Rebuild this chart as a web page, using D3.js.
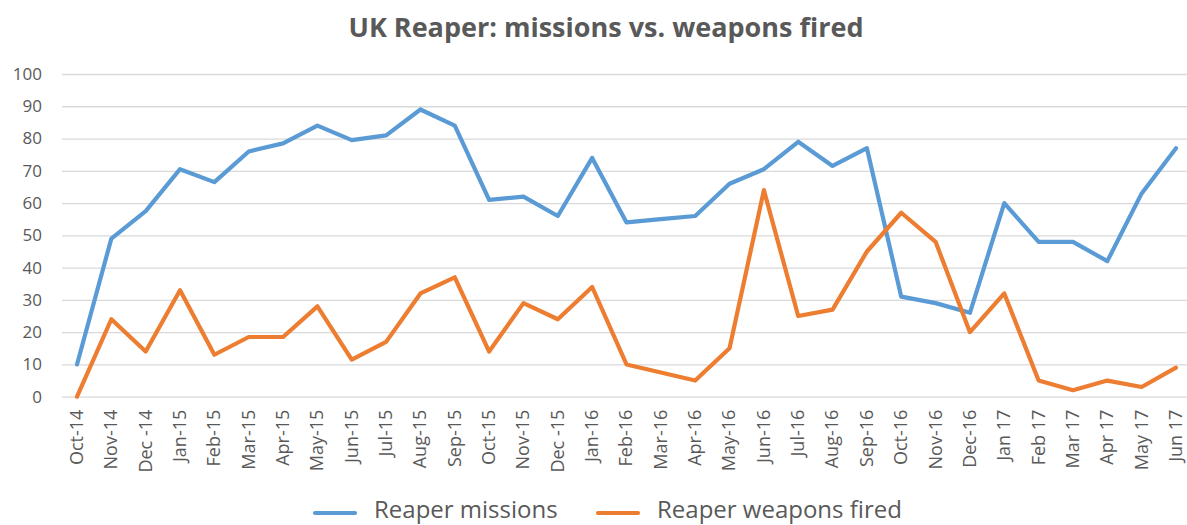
<!DOCTYPE html>
<html>
<head>
<meta charset="utf-8">
<script src="https://cdn.jsdelivr.net/npm/d3@7/dist/d3.min.js"></script>
<style>
  html, body { margin: 0; padding: 0; background: #fff; }
  svg { display: block; }
  text { font-family: "Open Sans", "Noto Sans", "DejaVu Sans", sans-serif; fill: #595959; }
</style>
</head>
<body>
<svg id="chart" width="1187" height="525"></svg>
<script>
const months = ["Oct-14","Nov-14","Dec -14","Jan-15","Feb-15","Mar-15","Apr-15","May-15","Jun-15","Jul-15","Aug-15","Sep-15","Oct-15","Nov-15","Dec -15","Jan-16","Feb-16","Mar-16","Apr-16","May-16","Jun-16","Jul-16","Aug-16","Sep-16","Oct-16","Nov-16","Dec-16","Jan 17","Feb 17","Mar 17","Apr 17","May 17","Jun 17"];
const missions = [10,49,57.5,70.5,66.5,76,78.5,84,79.5,81,89,84,61,62,56,74,54,55,56,66,70.5,79,71.5,77,31,29,26,60,48,48,42,63,77];
const weaponsFired = [0,24,14,33,13,18.5,18.5,28,11.5,17,32,37,14,29,24,34,10,7.5,5,15,64,25,27,45,57,48,20,32,5,2,5,3,9];
const yTicks = [0,10,20,30,40,50,60,70,80,90,100];
const seriesNames = ["Reaper missions","Reaper weapons fired"];
const colors = ["#5B9BD5","#ED7D31"];
const title = "UK Reaper: missions vs. weapons fired";

const svg = d3.select("#chart");
const x = d3.scalePoint().domain(months).range([77, 1176]);
const y = d3.scaleLinear().domain([0,100]).range([396.7, 74]);

// title
svg.append("text").attr("x", 606).attr("y", 37).attr("text-anchor","middle")
  .style("font-size","27px").style("font-weight","bold").text(title);

// gridlines + y labels
const yAxis = d3.axisLeft(y).tickValues(yTicks).tickSize(-(1187-62)).tickPadding(20);
const gy = svg.append("g").attr("transform","translate(62,0)").call(yAxis);
gy.select(".domain").remove();
gy.selectAll(".tick line").attr("stroke","#d9d9d9").attr("stroke-width",1.3);
gy.selectAll(".tick text").style("font-size","17px").attr("fill","#595959");

// x labels
const xAxis = d3.axisBottom(x).tickSize(0).tickPadding(0);
const gx = svg.append("g").attr("transform","translate(0,396.7)").call(xAxis);
gx.select(".domain").remove();
gx.selectAll(".tick text")
  .attr("transform","rotate(-90)")
  .attr("text-anchor","end")
  .attr("x",-13).attr("y",0).attr("dy","0.3em")
  .style("font-size","18px").attr("fill","#595959");

// lines
const line = d3.line().x((d,i)=>x(months[i])).y(d=>y(d));
[missions, weaponsFired].forEach((s,k)=>{
  svg.append("path").datum(s).attr("d",line).attr("fill","none")
    .attr("stroke",colors[k]).attr("stroke-width",4.2).attr("stroke-linejoin","round").attr("stroke-linecap","round");
});

// legend
const leg = [{x0:315, tx:374},{x0:598, tx:657}];
seriesNames.forEach((n,k)=>{
  svg.append("line").attr("x1",leg[k].x0).attr("x2",leg[k].x0+40).attr("y1",513).attr("y2",513)
    .attr("stroke",colors[k]).attr("stroke-width",4.2).attr("stroke-linecap","round");
  svg.append("text").attr("x",leg[k].tx).attr("y",518).style("font-size","24px").text(n);
});
</script>
</body>
</html>
